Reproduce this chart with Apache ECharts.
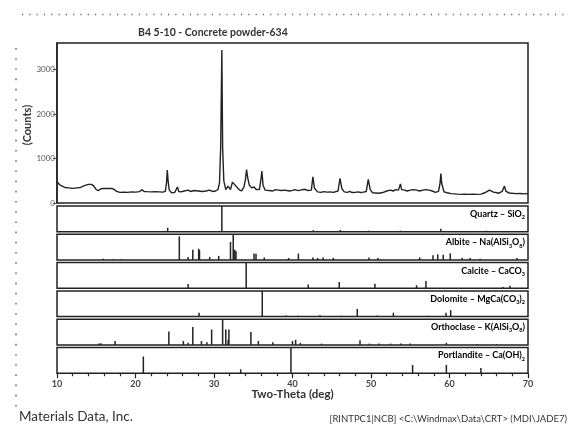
<!DOCTYPE html>
<html>
<head>
<meta charset="utf-8">
<script src="https://cdn.jsdelivr.net/npm/echarts@6/dist/echarts.min.js"></script>
<style>
  html, body { margin: 0; padding: 0; background: #fff; }
  #chart { width: 573px; height: 426px; }
</style>
</head>
<body>
<div id="chart"></div>
<script>
var twoTheta = [10.0, 10.2, 10.4, 10.6, 11.0, 11.5, 12.0, 12.5, 13.0, 13.5, 14.0, 14.4, 14.7, 15.0, 15.3, 15.6, 16.0, 16.5, 17.0, 17.3,
  17.6, 18.0, 18.5, 19.0, 19.5, 20.0, 20.5, 20.8, 21.1, 21.5, 22.0, 22.5, 23.0, 23.5, 23.8, 23.95, 24.05, 24.15, 24.3, 24.6,
  25.0, 25.35, 25.5, 25.8, 26.2, 26.7, 27.0, 27.5, 28.0, 28.2, 28.5, 29.0, 29.4, 29.8, 30.2, 30.5, 30.7, 30.85, 31.0, 31.1,
  31.25, 31.5, 31.8, 32.1, 32.35, 32.6, 32.8, 33.0, 33.2, 33.5, 33.8, 34.0, 34.15, 34.3, 34.5, 34.8, 35.1, 35.4, 35.8, 36.0,
  36.1, 36.25, 36.5, 37.0, 37.5, 37.8, 38.2, 38.6, 39.0, 39.2, 39.6, 40.0, 40.3, 40.7, 41.0, 41.5, 42.0, 42.4, 42.6, 42.8,
  43.2, 43.6, 44.0, 44.4, 44.8, 45.2, 45.8, 46.05, 46.3, 46.6, 47.0, 47.3, 47.6, 48.0, 48.3, 48.7, 49.0, 49.4, 49.65, 49.9,
  50.2, 50.6, 51.0, 51.5, 52.0, 52.5, 52.8, 53.2, 53.5, 53.75, 53.9, 54.3, 54.6, 55.0, 55.4, 55.8, 56.2, 56.6, 57.0, 57.4,
  57.8, 58.2, 58.6, 58.8, 58.9, 59.0, 59.3, 59.7, 60.2, 61.0, 61.5, 62.0, 62.5, 63.0, 63.5, 64.0, 64.5, 64.8, 65.1, 65.3,
  65.6, 65.9, 66.3, 66.7, 67.0, 67.2, 67.6, 68.0, 68.5, 69.0, 69.5, 70.0];
var counts = [480, 470, 400, 360, 350, 340, 330, 340, 350, 390, 420, 420, 380, 300, 280, 320, 330, 325, 330, 300,
  260, 240, 245, 240, 250, 245, 255, 300, 260, 255, 250, 255, 250, 245, 260, 450, 740, 500, 290, 230,
  240, 360, 260, 250, 270, 290, 260, 280, 270, 300, 260, 270, 290, 260, 270, 300, 450, 1250, 3440, 1250,
  500, 300, 380, 300, 470, 510, 380, 350, 300, 270, 350, 520, 750, 560, 400, 340, 360, 300, 310, 560,
  720, 400, 290, 280, 270, 300, 290, 280, 290, 300, 270, 285, 300, 280, 290, 310, 280, 290, 590, 330,
  250, 240, 255, 245, 250, 240, 270, 555, 320, 250, 240, 260, 235, 240, 250, 235, 245, 260, 530, 300,
  230, 225, 220, 235, 270, 290, 270, 300, 290, 430, 300, 290, 270, 290, 300, 290, 270, 290, 300, 290,
  270, 240, 260, 450, 665, 450, 250, 230, 210, 200, 195, 200, 195, 200, 195, 200, 230, 260, 290, 250,
  245, 235, 220, 260, 380, 260, 225, 218, 210, 215, 205, 210];

// reference patterns: [2-theta, relative intensity]
var quartz = [[24.1, 15], [31.0, 100], [42.65, 6], [46.1, 7], [49.7, 4], [53.75, 4], [58.9, 11], [64.7, 4]];
var albite = [[15.9, 5], [17.2, 3], [18.2, 3], [25.58, 92], [26.7, 12], [27.3, 40], [28.05, 44], [28.15, 38], [29.45, 12],
  [30.6, 16], [32.1, 70], [32.45, 100], [32.65, 40], [32.8, 34], [35.1, 25], [35.35, 24], [36.4, 10], [39.5, 8],
  [40.75, 25], [42.6, 10], [43.2, 8], [43.9, 10], [45.2, 8], [49.75, 10], [50.9, 8], [56.2, 10], [57.9, 18],
  [58.5, 22], [59.2, 20], [60.1, 26], [61.6, 8], [62.6, 8], [63.9, 5], [68.6, 8]];
var calcite = [[26.7, 17], [34.1, 100], [42.0, 15], [45.95, 25], [50.5, 18], [55.8, 12], [57.0, 28], [66.8, 5], [67.7, 10]];
var dolomite = [[28.1, 15], [36.15, 100], [39.2, 4], [40.7, 3], [43.5, 5], [46.2, 3], [48.25, 30], [50.8, 4], [52.85, 15],
  [57.2, 3], [59.55, 15], [60.15, 25]];
var orthoclase = [[15.35, 5], [15.6, 6], [17.4, 15], [24.25, 52], [26.1, 15], [26.7, 8], [27.3, 70], [28.4, 15], [29.1, 10],
  [29.7, 60], [31.1, 100], [31.5, 60], [31.8, 20], [31.9, 60], [34.7, 50], [35.65, 15], [37.5, 10], [40.0, 15],
  [40.4, 20], [41.0, 8], [43.7, 5], [48.6, 18], [49.8, 5], [51.0, 5], [52.5, 5], [53.8, 5], [55.0, 5], [59.6, 8],
  [63.5, 3], [66.0, 3]];
var portlandite = [[21.0, 65], [33.4, 15], [39.8, 100], [55.3, 32], [59.6, 32], [64.0, 20]];

var phases = [quartz, albite, calcite, dolomite, orthoclase, portlandite];
var phaseLabels = [
  '{t|Quartz – SiO}{s|2}',
  '{t|Albite – Na(AlSi}{s|3}{t|O}{s|8}{t|)}',
  '{t|Calcite – CaCO}{s|3}',
  '{t|Dolomite – MgCa(CO}{s|3}{t|)}{s|2}',
  '{t|Orthoclase – K(AlSi}{s|3}{t|O}{s|8}{t|)}',
  '{t|Portlandite – Ca(OH)}{s|2}'
];
var yTicks = [0, 1000, 2000, 3000];

var FONT = 'Lato';
var INK = '#222';
var PLOT_LEFT = 57, PLOT_W = 471;
var PANEL_TOP = 206, PANEL_STEP = 28.3, PANEL_H = 25.7;

var chart = echarts.init(document.getElementById('chart'));

var grids = [{ left: PLOT_LEFT, top: 43, width: PLOT_W, height: 160, show: true, borderColor: INK, borderWidth: 1.5 }];
var xAxes = [{ gridIndex: 0, type: 'value', min: 10, max: 70, show: false }];
var yAxes = [{
  gridIndex: 0, type: 'value', min: 0, max: 3600,
  axisLine: { show: true, lineStyle: { color: INK, width: 1.5 } },
  axisTick: { show: true, length: 4, customValues: yTicks, lineStyle: { color: '#444' } },
  axisLabel: {
    customValues: yTicks, fontFamily: FONT, fontSize: 8, color: '#555', margin: 2,
    formatter: function (v) { return String(v); }
  },
  splitLine: { show: false }
}];
var series = [{
  type: 'line', xAxisIndex: 0, yAxisIndex: 0,
  data: twoTheta.map(function (t, i) { return [t, counts[i]]; }),
  showSymbol: false, symbol: 'none',
  lineStyle: { color: INK, width: 1.4 }
}];

var graphics = [];

phases.forEach(function (sticks, i) {
  var gi = i + 1;
  var top = PANEL_TOP + i * PANEL_STEP;
  var last = i === phases.length - 1;
  grids.push({ left: PLOT_LEFT, top: top, width: PLOT_W, height: PANEL_H, show: true, borderColor: INK, borderWidth: 1.5 });
  xAxes.push({
    gridIndex: gi, type: 'value', min: 10, max: 70, interval: 10,
    axisLine: { show: false },
    axisTick: { show: last, inside: false, length: 5, lineStyle: { color: INK, width: 1.2 } },
    minorTick: { show: last, splitNumber: 5, length: 3, lineStyle: { color: INK, width: 1.2 } },
    axisLabel: { show: last, fontFamily: FONT, fontWeight: 'bold', fontSize: 9, color: '#444', margin: 6 },
    splitLine: { show: false }
  });
  yAxes.push({ gridIndex: gi, type: 'value', min: 0, max: 100, show: false });
  series.push({
    type: 'bar', xAxisIndex: gi, yAxisIndex: gi,
    data: sticks, barWidth: 1.5,
    itemStyle: { color: INK }
  });
  graphics.push({
    type: 'text', x: 525, y: top + 8,
    style: {
      text: phaseLabels[i], align: 'right', verticalAlign: 'middle',
      rich: {
        t: { fontFamily: FONT, fontWeight: 'bold', fontSize: 9, color: '#333', lineHeight: 13 },
        s: { fontFamily: FONT, fontWeight: 'bold', fontSize: 5.5, color: '#333', lineHeight: 6, verticalAlign: 'bottom' }
      }
    }
  });
});

// scanner ruler dots along the top and left edges
graphics.push({ type: 'line', shape: { x1: 22, y1: 14.5, x2: 568, y2: 14.5 }, style: { stroke: '#666', lineWidth: 1.5, lineDash: [1.2, 6.1] } });
graphics.push({ type: 'line', shape: { x1: 16, y1: 48, x2: 16, y2: 412 }, style: { stroke: '#666', lineWidth: 1.5, lineDash: [1.6, 8.6] } });

graphics.push({
  type: 'text', x: 138, y: 33,
  style: { text: 'B4 5-10 - Concrete powder-634', fontFamily: FONT, fontWeight: 'bold', fontSize: 10.5, fill: '#333', verticalAlign: 'middle' }
});
graphics.push({
  type: 'text', x: 27, y: 125, rotation: Math.PI / 2,
  style: { text: '(Counts)', fontFamily: FONT, fontWeight: 'bold', fontSize: 11, fill: '#333', align: 'center', verticalAlign: 'middle' }
});
graphics.push({
  type: 'text', x: 292.5, y: 394,
  style: { text: 'Two-Theta (deg)', fontFamily: FONT, fontWeight: 'bold', fontSize: 11.5, fill: '#333', align: 'center', verticalAlign: 'middle' }
});
graphics.push({
  type: 'text', x: 19, y: 417,
  style: { text: 'Materials Data, Inc.', fontFamily: FONT, fontSize: 13.5, fill: '#333', verticalAlign: 'middle' }
});
graphics.push({
  type: 'text', x: 567, y: 419,
  style: { text: '[RINTPC1|NCB] <C:\\Windmax\\Data\\CRT> (MDI\\JADE7)', fontFamily: FONT, fontSize: 9.5, fill: '#333', align: 'right', verticalAlign: 'middle' }
});

chart.setOption({
  animation: false,
  backgroundColor: '#fff',
  grid: grids,
  xAxis: xAxes,
  yAxis: yAxes,
  series: series,
  graphic: graphics
});
</script>
</body>
</html>
